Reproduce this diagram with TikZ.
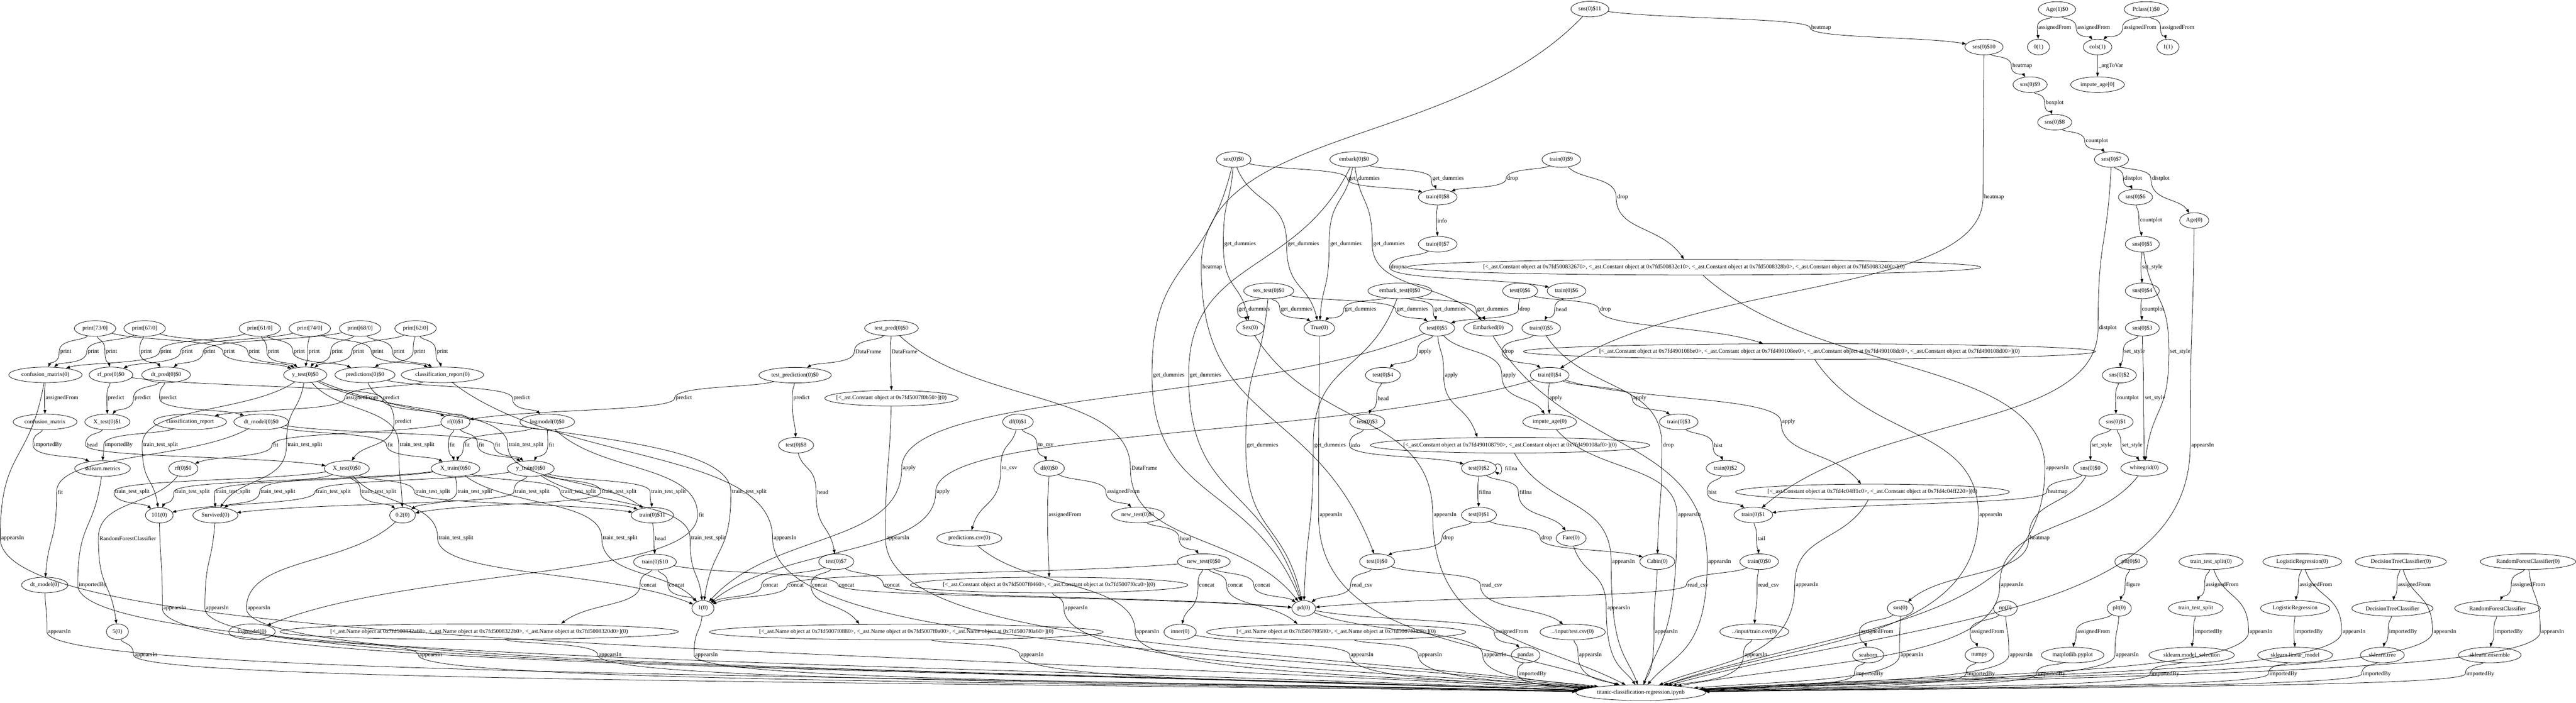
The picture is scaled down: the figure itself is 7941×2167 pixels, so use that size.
\documentclass[tikz,border=0pt]{standalone}
\usepackage{fontspec}
\setmainfont{Liberation Serif}
\usetikzlibrary{shapes.geometric,arrows.meta,calc}
\newcount\ecnt
\newcommand\nf{\fontsize{5.1pt}{6pt}\selectfont}
\tikzset{
  nd/.style={draw, ellipse, line width=0.35pt, inner xsep=1.8pt, inner ysep=0pt, minimum height=0.48cm, minimum width=0.68cm, font=\nf},
  lst/.style={nd, inner xsep=-7pt},
  lb/.style={inner sep=0.8pt, font=\nf},
  ed/.style={line width=0.35pt, -{Triangle[length=3.4pt,width=2.5pt]}}
}
\newcommand\EdgeL[5]{%
  \global\advance\ecnt by 1\relax
  \node[lb] (l\the\ecnt) at (#4,-#5) {#3};
  \draw[ed] let \p1=(#1), \p2=(l\the\ecnt.west), \p3=(#2) in
    (#1) .. controls +({0.35*(\x2-\x1)},{0.55*(\y2-\y1)}) and +(0,{0.55*(\y1-\y2)}) .. (\p2)
    .. controls +(0,{0.55*(\y3-\y2)}) and +({0.35*(\x2-\x3)},{0.55*(\y2-\y3)}) .. (#2);
}
\newcommand\EdgeM[4]{%
  \global\advance\ecnt by 1\relax
  \node[lb] (l\the\ecnt) at (#3,-#4) {#2};
  \draw[ed] let \p1=(#1), \p2=(l\the\ecnt.west), \p3=(main) in
    (#1) .. controls +({0.35*(\x2-\x1)},{0.55*(\y2-\y1)}) and +(0,{0.55*(\y1-\y2)}) .. (\p2)
    .. controls +(0,{0.7*(\y3-\y2)}) and +({0.5*(\x2-\x3)},{0.3*(\y2-\y3)}) .. (main);
}
\begin{document}
\begin{tikzpicture}[x=0.01cm,y=0.01cm]
\useasboundingbox (0,0) rectangle (7941,-2167);
\fill[white] (0,0) rectangle (7941,-2167);
% ---------- left nodes
\node[nd] (p73) at (293,-1013) {print[73/0]};
\node[nd] (p67) at (446,-1013) {print[67/0]};
\node[nd] (p61) at (801,-1013) {print[61/0]};
\node[nd] (p74) at (955,-1013) {print[74/0]};
\node[nd] (p68) at (1110,-1013) {print[68/0]};
\node[nd] (p62) at (1281,-1013) {print[62/0]};
\node[nd] (cmz) at (140,-1156) {confusion\_matrix(0)};
\node[nd] (rfpre) at (342,-1156) {rf\_pre(0)\$0};
\node[nd] (dtpred) at (512,-1156) {dt\_pred(0)\$0};
\node[nd] (ytest) at (941,-1156) {y\_test(0)\$0};
\node[nd] (pred) at (1125,-1156) {predictions(0)\$0};
\node[nd] (crz) at (1364,-1156) {classification\_report(0)};
\node[nd] (cm) at (139,-1301) {confusion\_matrix};
\node[nd] (xtestA) at (331,-1301) {X\_test(0)\$1};
\node[nd] (cr) at (586,-1301) {classification\_report};
\node[nd] (dtmA) at (805,-1301) {dt\_model(0)\$0};
\node[nd] (rfA) at (1404,-1301) {rf(0)\$1};
\node[nd] (lmA) at (1687,-1301) {logmodel(0)\$0};
\node[nd] (skm) at (316,-1445) {sklearn.metrics};
\node[nd] (rfB) at (565,-1445) {rf(0)\$0};
\node[nd] (xtestB) at (1069,-1445) {X\_test(0)\$0};
\node[nd] (xtrain) at (1404,-1445) {X\_train(0)\$0};
\node[nd] (ytrain) at (1636,-1445) {y\_train(0)\$0};
\node[nd] (n101) at (491,-1589) {101(0)};
\node[nd] (surv) at (664,-1589) {Survived(0)};
\node[nd] (n02) at (1241,-1589) {0.2(0)};
\node[nd] (tr11) at (2011,-1589) {train(0)\$11};
\node[nd] (tr10) at (2019,-1733) {train(0)\$10};
\node[nd] (dtm) at (138,-1804) {dt\_model(0)};
\node[nd] (one) at (2167,-1876) {1(0)};
\node[nd] (n5) at (362,-1948) {5(0)};
\node[nd] (lm) at (777,-1948) {logmodel(0)};
\node[lst] (nameA) at (1477,-1948) {[<\_ast.Name object at 0x7fd500832a60>, <\_ast.Name object at 0x7fd5008322b0>, <\_ast.Name object at 0x7fd5008320d0>](0)};
% ---------- middle nodes
\node[nd] (tpred) at (2748,-1012) {test\_pred(0)\$0};
\node[nd] (tpn) at (2451,-1157) {test\_prediction(0)\$0};
\node[lst] (cB50) at (2748,-1228) {[<\_ast.Constant object at 0x7fd5007f0b50>](0)};
\node[nd] (df1) at (3138,-1301) {df(0)\$1};
\node[nd] (t8) at (2454,-1373) {test(0)\$8};
\node[nd] (df0) at (3234,-1444) {df(0)\$0};
\node[nd] (nt1) at (3508,-1588) {new\_test(0)\$1};
\node[nd] (pcsv) at (2988,-1660) {predictions.csv(0)};
\node[nd] (t7) at (2578,-1732) {test(0)\$7};
\node[lst] (c460) at (3234,-1804) {[<\_ast.Constant object at 0x7fd5007f0460>, <\_ast.Constant object at 0x7fd5007f0ca0>](0)};
\node[lst] (nameB) at (2794,-1949) {[<\_ast.Name object at 0x7fd5007f0880>, <\_ast.Name object at 0x7fd5007f0a00>, <\_ast.Name object at 0x7fd5007f0a60>](0)};
% ---------- center nodes
\node[nd] (sns11) at (4901,-28) {sns(0)\$11};
\node[nd] (sex) at (3803,-492) {sex(0)\$0};
\node[nd] (emb) at (4174,-492) {embark(0)\$0};
\node[nd] (tr9) at (4813,-492) {train(0)\$9};
\node[nd] (tr8) at (4432,-608) {train(0)\$8};
\node[nd] (tr7) at (4432,-753) {train(0)\$7};
\node[lst] (c670) at (5222,-824) {[<\_ast.Constant object at 0x7fd500832670>, <\_ast.Constant object at 0x7fd500832c10>, <\_ast.Constant object at 0x7fd5008328b0>, <\_ast.Constant object at 0x7fd500832400>](0)};
\node[nd] (sext) at (3911,-897) {sex\_test(0)\$0};
\node[nd] (embt) at (4315,-897) {embark\_test(0)\$0};
\node[nd] (t6) at (4686,-897) {test(0)\$6};
\node[nd] (tr6) at (4829,-897) {train(0)\$6};
\node[nd] (Sex) at (3854,-1012) {Sex(0)};
\node[nd] (True) at (4067,-1012) {True(0)};
\node[nd] (t5) at (4430,-1012) {test(0)\$5};
\node[nd] (Emb) at (4588,-1012) {Embarked(0)};
\node[nd] (tr5) at (4751,-1012) {train(0)\$5};
\node[lst] (cBE0) at (5578,-1084) {[<\_ast.Constant object at 0x7fd490108be0>, <\_ast.Constant object at 0x7fd490108ee0>, <\_ast.Constant object at 0x7fd490108dc0>, <\_ast.Constant object at 0x7fd490108d00>](0)};
\node[nd] (t4) at (4263,-1157) {test(0)\$4};
\node[nd] (tr4) at (4777,-1157) {train(0)\$4};
\node[nd] (t3) at (4215,-1301) {test(0)\$3};
\node[nd] (impage) at (4777,-1301) {impute\_age(0)};
\node[nd] (tr3) at (5175,-1301) {train(0)\$3};
\node[lst] (c790) at (4655,-1373) {[<\_ast.Constant object at 0x7fd490108790>, <\_ast.Constant object at 0x7fd490108af0>](0)};
\node[nd] (t2) at (4559,-1444) {test(0)\$2};
\node[nd] (tr2) at (5319,-1444) {train(0)\$2};
\node[lst] (c1c0) at (5772,-1517) {[<\_ast.Constant object at 0x7fd4c04ff1c0>, <\_ast.Constant object at 0x7fd4c04ff220>](0)};
\node[nd] (t1) at (4559,-1588) {test(0)\$1};
\node[nd] (tr1) at (5405,-1588) {train(0)\$1};
\node[nd] (fare) at (4843,-1660) {Fare(0)};
\node[nd] (nt0) at (3711,-1732) {new\_test(0)\$0};
\node[nd] (t0) at (4245,-1732) {test(0)\$0};
\node[nd] (cabin) at (5109,-1732) {Cabin(0)};
\node[nd] (tr0) at (5423,-1732) {train(0)\$0};
\node[nd] (pd) at (4019,-1876) {pd(0)};
\node[nd] (inner) at (3638,-1949) {inner(0)};
\node[lst] (nameC) at (4119,-1949) {[<\_ast.Name object at 0x7fd5007f0580>, <\_ast.Name object at 0x7fd5007f0430>](0)};
\node[nd] (testcsv) at (4848,-1949) {../input/test.csv(0)};
\node[nd] (traincsv) at (5408,-1948) {../input/train.csv(0)};
\node[nd] (pandas) at (4703,-2020) {pandas};
\node[nd] (main) at (5058,-2136) {titanic-classification-regression.ipynb};
% ---------- right nodes
\node[nd] (sns10) at (6116,-145) {sns(0)\$10};
\node[nd] (sns9) at (6258,-261) {sns(0)\$9};
\node[nd] (sns8) at (6334,-377) {sns(0)\$8};
\node[nd] (sns7) at (6509,-492) {sns(0)\$7};
\node[nd] (sns6) at (6583,-608) {sns(0)\$6};
\node[nd] (sns5) at (6604,-753) {sns(0)\$5};
\node[nd] (sns4) at (6604,-897) {sns(0)\$4};
\node[nd] (sns3) at (6604,-1012) {sns(0)\$3};
\node[nd] (sns2) at (6533,-1157) {sns(0)\$2};
\node[nd] (sns1) at (6523,-1301) {sns(0)\$1};
\node[nd] (sns0) at (6444,-1444) {sns(0)\$0};
\node[nd] (age1) at (6341,-29) {Age(1)\$0};
\node[nd] (pclass) at (6616,-29) {Pclass(1)\$0};
\node[nd] (zero1) at (6284,-145) {0(1)};
\node[nd] (cols) at (6466,-145) {cols(1)};
\node[nd] (one1) at (6683,-145) {1(1)};
\node[nd] (impage0) at (6466,-261) {impute\_age[0]};
\node[nd] (age0) at (6764,-680) {Age(0)};
\node[nd] (white) at (6610,-1444) {whitegrid(0)};
\node[nd] (sns) at (5858,-1876) {sns(0)};
\node[nd] (np) at (6182,-1876) {np(0)};
\node[nd] (plt0) at (6569,-1732) {plt(0)\$0};
\node[nd] (plt) at (6533,-1876) {plt(0)};
\node[nd] (tts0) at (6816,-1732) {train\_test\_split(0)};
\node[nd] (lr0) at (7097,-1732) {LogisticRegression(0)};
\node[nd] (dtc0) at (7401,-1732) {DecisionTreeClassifier(0)};
\node[nd] (rfc0) at (7793,-1732) {RandomForestClassifier(0)};
\node[nd] (tts) at (6769,-1876) {train\_test\_split};
\node[nd] (lr) at (7075,-1876) {LogisticRegression};
\node[nd] (dtc) at (7375,-1876) {DecisionTreeClassifier};
\node[nd] (rfc) at (7699,-1876) {RandomForestClassifier};
\node[nd] (seaborn) at (5759,-2020) {seaborn};
\node[nd] (numpy) at (6102,-2020) {numpy};
\node[nd] (mpl) at (6389,-2020) {matplotlib.pyplot};
\node[nd] (skms) at (6756,-2020) {sklearn.model\_selection};
\node[nd] (sklm) at (7075,-2020) {sklearn.linear\_model};
\node[nd] (skt) at (7344,-2020) {sklearn.tree};
\node[nd] (ske) at (7675,-2020) {sklearn.ensemble};
% ================= edges: left
\EdgeL{p73}{cmz}{print}{203}{1084}
\EdgeL{p67}{cmz}{print}{288}{1084}
\EdgeL{p73}{rfpre}{print}{344}{1084}
\EdgeL{p67}{dtpred}{print}{451}{1084}
\EdgeL{p61}{cmz}{print}{512}{1084}
\EdgeL{p74}{rfpre}{print}{577}{1084}
\EdgeL{p68}{dtpred}{print}{647}{1084}
\EdgeL{p73}{ytest}{print}{707}{1084}
\EdgeL{p67}{ytest}{print}{784}{1084}
\EdgeL{p61}{ytest}{print}{843}{1084}
\EdgeL{p61}{pred}{print}{923}{1084}
\EdgeL{p74}{ytest}{print}{969}{1084}
\EdgeL{p68}{ytest}{print}{1040}{1084}
\EdgeL{p62}{ytest}{print}{1105}{1084}
\EdgeL{p74}{crz}{print}{1165}{1084}
\EdgeL{p68}{crz}{print}{1230}{1084}
\EdgeL{p62}{pred}{print}{1294}{1084}
\EdgeL{p62}{crz}{print}{1364}{1084}
\EdgeL{cmz}{cm}{assignedFrom}{191}{1228}
\EdgeL{rfpre}{xtestA}{predict}{358}{1228}
\EdgeL{dtpred}{xtestA}{predict}{440}{1228}
\EdgeL{dtpred}{dtmA}{predict}{520}{1228}
\EdgeL{crz}{cr}{assignedFrom}{1116}{1228}
\EdgeL{rfpre}{rfA}{predict}{1206}{1228}
\EdgeL{pred}{lmA}{predict}{1608}{1228}
\EdgeL{tpn}{rfA}{predict}{2108}{1228}
\EdgeL{pred}{xtestB}{predict}{1243}{1301}
\EdgeL{cm}{skm}{importedBy}{148}{1372}
\EdgeL{xtestA}{xtestB}{head}{284}{1372}
\EdgeL{cr}{skm}{importedBy}{366}{1372}
\EdgeL{ytest}{n101}{train\_test\_split}{495}{1372}
\EdgeL{rfA}{rfB}{fit}{850}{1372}
\EdgeL{ytest}{surv}{train\_test\_split}{940}{1372}
\EdgeL{dtmA}{xtrain}{fit}{1203}{1372}
\EdgeL{ytest}{n02}{train\_test\_split}{1286}{1372}
\EdgeL{rfA}{xtrain}{fit}{1394}{1372}
\EdgeL{lmA}{xtrain}{fit}{1440}{1372}
\EdgeL{rfA}{ytrain}{fit}{1484}{1372}
\EdgeL{dtmA}{ytrain}{fit}{1534}{1372}
\EdgeL{ytest}{tr11}{train\_test\_split}{1622}{1372}
\EdgeL{lmA}{ytrain}{fit}{1700}{1372}
\EdgeL{dtmA}{dtm}{fit}{186}{1517}
\EdgeL{rfB}{n5}{RandomForestClassifier}{394}{1660}
\EdgeL{xtestB}{n101}{train\_test\_split}{408}{1517}
\EdgeL{xtrain}{n101}{train\_test\_split}{593}{1517}
\EdgeL{xtrain}{surv}{train\_test\_split}{718}{1517}
\EdgeL{xtestB}{surv}{train\_test\_split}{857}{1517}
\EdgeL{ytrain}{n101}{train\_test\_split}{1028}{1517}
\EdgeL{xtestB}{n02}{train\_test\_split}{1168}{1517}
\EdgeL{xtestB}{tr11}{train\_test\_split}{1334}{1517}
\EdgeL{xtrain}{n02}{train\_test\_split}{1464}{1517}
\EdgeL{ytrain}{surv}{train\_test\_split}{1641}{1517}
\EdgeL{xtrain}{tr11}{train\_test\_split}{1784}{1517}
\EdgeL{ytrain}{n02}{train\_test\_split}{1909}{1517}
\EdgeL{ytrain}{tr11}{train\_test\_split}{2061}{1517}
\EdgeL{ytest}{one}{train\_test\_split}{2310}{1517}
\EdgeL{xtestB}{one}{train\_test\_split}{1406}{1660}
\EdgeL{xtrain}{one}{train\_test\_split}{1912}{1660}
\EdgeL{ytrain}{one}{train\_test\_split}{2184}{1660}
\EdgeL{lmA}{lm}{fit}{2162}{1588}
\EdgeL{tr11}{tr10}{head}{2036}{1660}
\EdgeL{tr10}{[xshift=2.53cm]nameA.north}{concat}{2000}{1804}
\EdgeL{tr10}{one}{concat}{2086}{1804}
\EdgeL{t7}{one}{concat}{2375}{1804}
\EdgeL{nt0}{one}{concat}{2454}{1804}
\EdgeL{t7}{[xshift=-1.45cm]nameB.north}{concat}{2527}{1804}
\EdgeL{tr10}{pd}{concat}{2610}{1804}
\EdgeL{t7}{pd}{concat}{2750}{1804}
\EdgeL{nt0}{inner}{concat}{3720}{1804}
\EdgeL{nt0}{[xshift=-1.19cm]nameC.north}{concat}{3808}{1804}
\EdgeL{nt0}{pd}{concat}{3892}{1804}
% ================= edges: middle
\EdgeL{tpred}{tpn}{DataFrame}{2677}{1084}
\EdgeL{tpred}{cB50.north}{DataFrame}{2788}{1084}
\EdgeL{tpred}{pd}{DataFrame}{3528}{1444}
\EdgeL{tpn}{t8}{predict}{2471}{1228}
\EdgeL{t8}{t7}{head}{2536}{1517}
\EdgeL{df1}{df0}{to\_csv}{3224}{1373}
\EdgeL{df1}{pcsv}{to\_csv}{3112}{1444}
\EdgeL{df0}{nt1}{assignedFrom}{3463}{1517}
\EdgeL{df0}{c460.north}{assignedFrom}{3283}{1588}
\EdgeL{nt1}{nt0}{head}{3655}{1660}
\EdgeL{t5}{one}{apply}{2803}{1444}
\EdgeL{tr4}{one}{apply}{2908}{1517}
% ================= edges: center
\EdgeL{sns11}{sns10}{heatmap}{5614}{86}
\EdgeL{sns11}{t0}{heatmap}{3737}{824}
\EdgeL{sex}{tr8}{get\_dummies}{4205}{551}
\EdgeL{emb}{tr8}{get\_dummies}{4464}{551}
\EdgeL{tr9}{tr8}{drop}{4663}{551}
\EdgeL{tr9}{[xshift=-0.31cm]c670.north}{drop}{5002}{608}
\EdgeL{tr8}{tr7}{info}{4446}{680}
\EdgeL{sex}{Sex}{get\_dummies}{3823}{753}
\EdgeL{sex}{True}{get\_dummies}{4018}{753}
\EdgeL{emb}{True}{get\_dummies}{4149}{753}
\EdgeL{emb}{Emb}{get\_dummies}{4282}{753}
\EdgeL{tr7}{tr6}{dropna}{4312}{824}
\EdgeL{sext}{Sex}{get\_dummies}{3866}{954}
\EdgeL{sext}{True}{get\_dummies}{3997}{954}
\EdgeL{embt}{True}{get\_dummies}{4194}{954}
\EdgeL{sext}{t5}{get\_dummies}{4354}{954}
\EdgeL{embt}{t5}{get\_dummies}{4470}{954}
\EdgeL{embt}{Emb}{get\_dummies}{4602}{954}
\EdgeL{t6}{t5}{drop}{4701}{954}
\EdgeL{tr6}{tr5}{head}{4813}{954}
\EdgeL{t6}{[xshift=-1.43cm]cBE0.north}{drop}{4949}{954}
\EdgeL{t5}{t4}{apply}{4393}{1084}
\EdgeL{tr5}{tr4}{drop}{4650}{1084}
\EdgeL{sex}{pd}{get\_dummies}{3603}{1157}
\EdgeL{emb}{pd}{get\_dummies}{3716}{1157}
\EdgeL{t5}{[xshift=-1.01cm]c790.north}{apply}{4474}{1157}
\EdgeL{t5}{impage}{apply}{4653}{1157}
\EdgeL{t4}{t3}{head}{4264}{1228}
\EdgeL{tr4}{impage}{apply}{4796}{1228}
\EdgeL{tr4}{tr3}{apply}{5055}{1228}
\EdgeL{tr4}{[xshift=-0.35cm]c1c0.north}{apply}{5514}{1301}
\EdgeL{sext}{pd}{get\_dummies}{3892}{1373}
\EdgeL{embt}{pd}{get\_dummies}{4100}{1373}
\EdgeL{t3}{t2}{info}{4178}{1373}
\EdgeL{tr5}{cabin}{drop}{5143}{1373}
\EdgeL{tr3}{tr2}{hist}{5297}{1373}
\node[lb] (lfill) at (4658,-1444) {fillna};
\draw[ed] (t2.12) .. controls +(26,16) and +(26,-16) .. (t2.-12);
\EdgeL{t2}{t1}{fillna}{4578}{1517}
\EdgeL{t2}{fare}{fillna}{4703}{1517}
\EdgeL{tr2}{tr1}{hist}{5279}{1517}
\EdgeL{t1}{t0}{drop}{4465}{1660}
\EdgeL{t1}{cabin}{drop}{4768}{1660}
\EdgeL{tr1}{tr0}{tail}{5430}{1660}
\EdgeL{t0}{pd}{read\_csv}{4199}{1804}
\EdgeL{t0}{testcsv}{read\_csv}{4599}{1804}
\EdgeL{tr0}{pd}{read\_csv}{5234}{1804}
\EdgeL{tr0}{traincsv}{read\_csv}{5452}{1804}
\EdgeL{pd}{pandas}{assignedFrom}{4660}{1949}
% ================= edges: right
\EdgeL{sns10}{sns9}{heatmap}{6234}{203}
\EdgeL{sns10}{tr4}{heatmap}{6147}{608}
\EdgeL{sns9}{sns8}{boxplot}{6334}{318}
\EdgeL{sns8}{sns7}{countplot}{6464}{435}
\EdgeL{sns7}{sns6}{distplot}{6576}{551}
\EdgeL{sns7}{age0}{distplot}{6661}{551}
\EdgeL{sns7}{tr1}{distplot}{6498}{1012}
\EdgeL{sns6}{sns5}{countplot}{6631}{680}
\EdgeL{sns5}{sns4}{set\_style}{6635}{824}
\EdgeL{sns5}{white}{set\_style}{6721}{1084}
\EdgeL{sns4}{sns3}{countplot}{6637}{954}
\EdgeL{sns3}{sns2}{set\_style}{6580}{1084}
\EdgeL{sns3}{white}{set\_style}{6643}{1228}
\EdgeL{sns2}{sns1}{countplot}{6559}{1228}
\EdgeL{sns1}{sns0}{set\_style}{6479}{1373}
\EdgeL{sns1}{white}{set\_style}{6573}{1373}
\EdgeL{sns0}{tr1}{heatmap}{6343}{1517}
\EdgeL{sns0}{sns}{heatmap}{6288}{1660}
\EdgeL{age1}{zero1}{assignedFrom}{6334}{86}
\EdgeL{age1}{cols}{assignedFrom}{6454}{86}
\EdgeL{pclass}{cols}{assignedFrom}{6597}{86}
\EdgeL{pclass}{one1}{assignedFrom}{6714}{86}
\EdgeL{cols}{impage0}{\_argToVar}{6507}{203}
\EdgeL{plt0}{plt}{figure}{6576}{1804}
\EdgeL{sns}{seaborn}{assignedFrom}{5786}{1948}
\EdgeL{np}{numpy}{assignedFrom}{6127}{1948}
\EdgeL{plt}{mpl}{assignedFrom}{6454}{1948}
\EdgeL{tts0}{tts}{assignedFrom}{6850}{1804}
\EdgeL{lr0}{lr}{assignedFrom}{7139}{1804}
\EdgeL{dtc0}{dtc}{assignedFrom}{7443}{1804}
\EdgeL{rfc0}{rfc}{assignedFrom}{7795}{1804}
\EdgeL{tts}{skms}{importedBy}{6808}{1948}
\EdgeL{lr}{sklm}{importedBy}{7118}{1948}
\EdgeL{dtc}{skt}{importedBy}{7408}{1948}
\EdgeL{rfc}{ske}{importedBy}{7734}{1948}
% ================= edges into the notebook node
\EdgeM{cmz}{appearsIn}{39}{1660}
\EdgeM{dtm}{appearsIn}{183}{1948}
\EdgeM{skm}{importedBy}{286}{1804}
\EdgeM{n5}{appearsIn}{450}{2020}
\EdgeM{n101}{appearsIn}{539}{1876}
\EdgeM{surv}{appearsIn}{670}{1876}
\EdgeM{n02}{appearsIn}{798}{1876}
\EdgeM{lm}{appearsIn}{1328}{2020}
\EdgeM{nameA}{appearsIn}{1881}{2020}
\EdgeM{one}{appearsIn}{2178}{2020}
\EdgeM{crz}{appearsIn}{2420}{1660}
\EdgeM{cB50}{appearsIn}{2768}{1660}
\EdgeM{nameB}{appearsIn}{3182}{2020}
\EdgeM{c460}{appearsIn}{3318}{1876}
\EdgeM{pcsv}{appearsIn}{3538}{1949}
\EdgeM{True}{appearsIn}{4103}{1588}
\EdgeM{Sex}{appearsIn}{4455}{1588}
\EdgeM{inner}{appearsIn}{4199}{2020}
\EdgeM{nameC}{appearsIn}{4410}{2020}
\EdgeM{pd}{appearsIn}{4609}{2020}
\EdgeM{testcsv}{appearsIn}{4903}{2020}
\EdgeM{pandas}{importedBy}{4724}{2078}
\EdgeM{fare}{appearsIn}{4990}{1876}
\EdgeM{c790}{appearsIn}{5005}{1732}
\EdgeM{cabin}{appearsIn}{5137}{1948}
\EdgeM{impage}{appearsIn}{5208}{1588}
\EdgeM{Emb}{appearsIn}{5301}{1732}
\EdgeM{traincsv}{appearsIn}{5413}{2020}
\EdgeM{c1c0}{appearsIn}{5571}{1804}
\EdgeM{seaborn}{importedBy}{5763}{2078}
\EdgeM{sns}{appearsIn}{5894}{2020}
\EdgeM{numpy}{importedBy}{6107}{2078}
\EdgeM{cBE0}{appearsIn}{6137}{1588}
\EdgeM{white}{appearsIn}{6203}{1804}
\EdgeM{np}{appearsIn}{6231}{2020}
\EdgeM{mpl}{importedBy}{6324}{2078}
\EdgeM{c670}{appearsIn}{6342}{1444}
\EdgeM{plt}{appearsIn}{6558}{2020}
\EdgeM{skms}{importedBy}{6675}{2078}
\EdgeM{age0}{appearsIn}{6790}{1373}
\EdgeM{tts0}{appearsIn}{6970}{1948}
\EdgeM{sklm}{importedBy}{7039}{2078}
\EdgeM{lr0}{appearsIn}{7257}{1948}
\EdgeM{skt}{importedBy}{7327}{2078}
\EdgeM{dtc0}{appearsIn}{7537}{1948}
\EdgeM{ske}{importedBy}{7646}{2078}
\EdgeM{rfc0}{appearsIn}{7869}{1948}
\end{tikzpicture}
\end{document}
